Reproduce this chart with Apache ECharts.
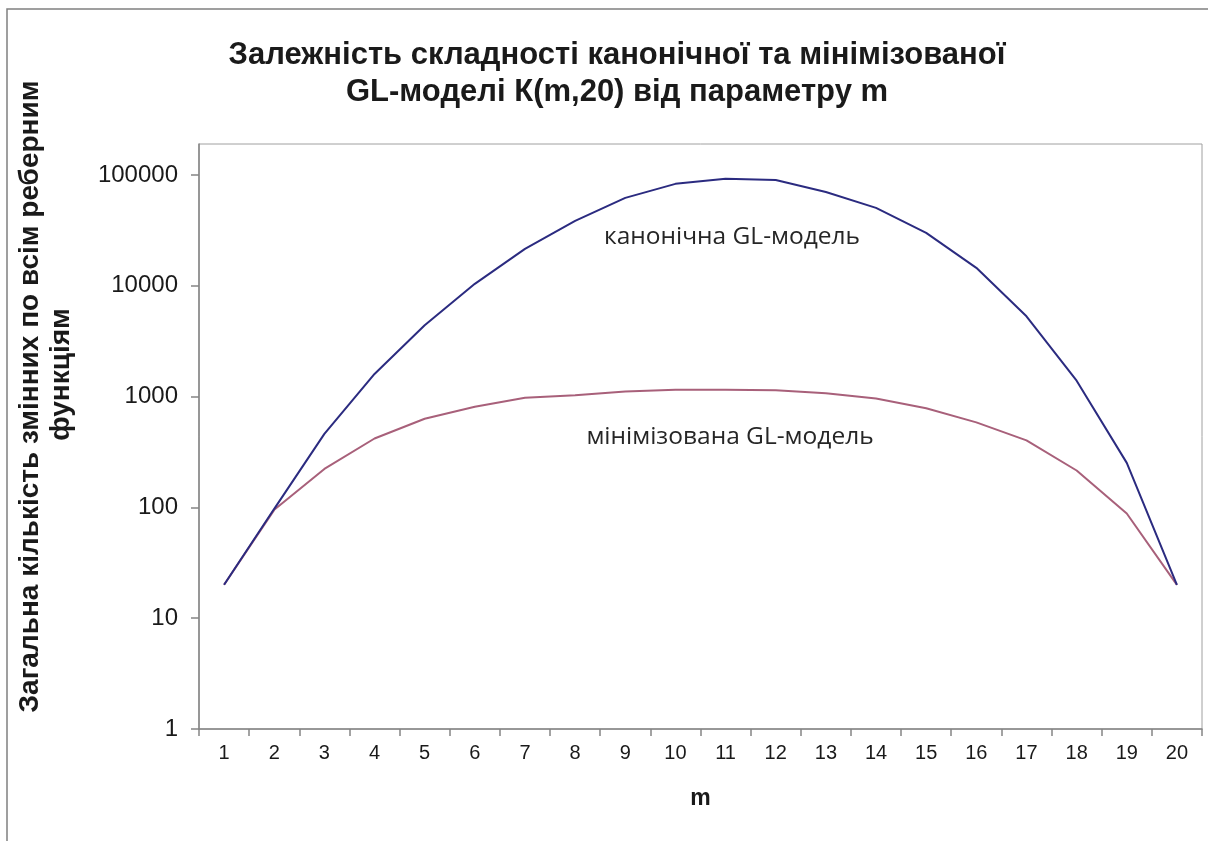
<!DOCTYPE html>
<html>
<head>
<meta charset="utf-8">
<script src="https://cdn.jsdelivr.net/npm/echarts@6/dist/echarts.min.js"></script>
<style>
  html, body { margin: 0; padding: 0; background: #ffffff; }
  #chart { width: 1208px; height: 841px; }
</style>
</head>
<body>
<div id="chart"></div>
<script>
// Parameter m of the K(m,20) model
const mValues = ['1','2','3','4','5','6','7','8','9','10','11','12','13','14','15','16','17','18','19','20'];

// Total number of variables over all edge functions
const canonical = [20, 97, 460, 1600, 4400, 10400, 21500, 38500, 62000, 83000,
                   92500, 90000, 70000, 50400, 30000, 14500, 5300, 1390, 252, 20];
const minimized = [20, 95, 222, 418, 630, 810, 975, 1025, 1110, 1150,
                   1150, 1140, 1070, 960, 785, 585, 402, 215, 88, 20];

// Decade ticks of the logarithmic value axis
const yTicks = [1, 10, 100, 1000, 10000, 100000];

const seriesNames = ['канонічна GL-модель', 'мінімізована GL-модель'];

const chart = echarts.init(document.getElementById('chart'), null, { renderer: 'canvas' });

const axisGray = '#858585';
const textColor = '#1a1a1a';
const nameFont = {
  fontFamily: 'Liberation Sans, Arial, sans-serif',
  fontWeight: 'bold',
  fontSize: 28,
  lineHeight: 31,
  color: textColor
};

chart.setOption({
  animation: false,
  backgroundColor: '#ffffff',
  title: {
    text: 'Залежність складності канонічної та мінімізованої\nGL-моделі К(m,20) від параметру m',
    left: 612,
    top: 32,
    textAlign: 'center',
    textStyle: {
      fontFamily: 'Liberation Sans, Arial, sans-serif',
      fontWeight: 'bold',
      fontSize: 31,
      lineHeight: 37,
      color: textColor
    }
  },
  grid: {
    left: 199,
    right: 6,
    top: 144,
    bottom: 112,
    show: true,
    borderColor: '#a0a0a0',
    borderWidth: 1,
    containLabel: false,
    outerBoundsMode: 'none'
  },
  xAxis: {
    type: 'category',
    data: mValues,
    boundaryGap: true,
    name: 'm',
    nameLocation: 'middle',
    nameGap: 58,
    nameTextStyle: {
      fontFamily: 'Liberation Sans, Arial, sans-serif',
      fontWeight: 'bold',
      fontSize: 23,
      color: textColor
    },
    axisLine: { show: true, lineStyle: { color: axisGray, width: 1.5 } },
    axisTick: { show: true, interval: 0, length: 7, lineStyle: { color: axisGray, width: 1.5 } },
    axisLabel: {
      interval: 0,
      margin: 14,
      fontFamily: 'Liberation Sans, Arial, sans-serif',
      fontSize: 20,
      color: textColor
    },
    splitLine: { show: false }
  },
  yAxis: {
    type: 'log',
    logBase: 10,
    min: 1,
    max: 190000,
    name: '{a|Загальна кількість змінних по всім реберним}\n{b|функціям}',
    nameLocation: 'middle',
    nameRotate: 90,
    nameGap: 122,
    nameTextStyle: Object.assign({}, nameFont, {
      align: 'center',
      padding: [0, 0, 0, 80],
      rich: {
        a: Object.assign({}, nameFont),
        b: Object.assign({}, nameFont, { padding: [0, 0, 0, 44] })
      }
    }),
    axisLine: { show: true, lineStyle: { color: axisGray, width: 1.5 } },
    axisTick: {
      show: true,
      length: 8,
      customValues: yTicks,
      lineStyle: { color: axisGray, width: 1.5 }
    },
    axisLabel: {
      margin: 21,
      customValues: yTicks,
      formatter: function (v) { return String(Math.round(v)); },
      fontFamily: 'Liberation Sans, Arial, sans-serif',
      fontSize: 24,
      color: textColor
    },
    splitLine: { show: false },
    minorTick: { show: false }
  },
  series: [
    {
      name: seriesNames[0],
      type: 'line',
      data: canonical,
      symbol: 'none',
      smooth: false,
      lineStyle: { color: '#2b2b80', width: 2 },
      z: 3
    },
    {
      name: seriesNames[1],
      type: 'line',
      data: minimized,
      symbol: 'none',
      smooth: false,
      lineStyle: { color: '#a8607a', width: 2 },
      z: 2
    }
  ],
  graphic: [
    {
      // outer chart frame
      type: 'rect',
      shape: { x: 7, y: 9, width: 1400, height: 1000 },
      style: { fill: 'none', stroke: '#808080', lineWidth: 1.5 },
      silent: true,
      z: -1
    },
    {
      type: 'text',
      x: 732,
      y: 237,
      style: {
        text: seriesNames[0],
        align: 'center',
        verticalAlign: 'middle',
        fontFamily: 'Open Sans, sans-serif',
        fontSize: 24.5,
        fill: '#262626'
      },
      silent: true
    },
    {
      type: 'text',
      x: 730,
      y: 437,
      style: {
        text: seriesNames[1],
        align: 'center',
        verticalAlign: 'middle',
        fontFamily: 'Open Sans, sans-serif',
        fontSize: 24.5,
        fill: '#262626'
      },
      silent: true
    }
  ]
});
</script>
</body>
</html>
